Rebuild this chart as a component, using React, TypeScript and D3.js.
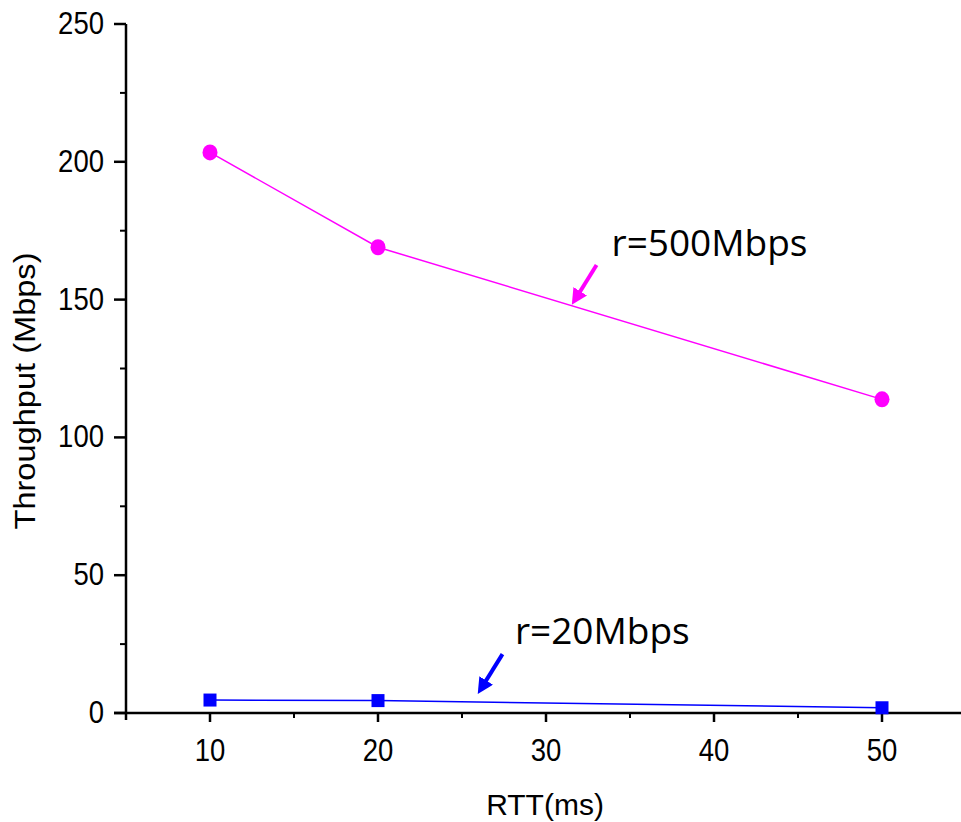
import React from "react";
import * as d3 from "d3";

const rtt = [10, 20, 50];
const thr500 = [203.4, 169.0, 113.8];
const thr20 = [4.7, 4.5, 1.9];
const xTicks = [10, 20, 30, 40, 50];
const yTicks = [0, 50, 100, 150, 200, 250];

const width = 961;
const height = 822;
const margin = { left: 126, top: 24, right: -5, bottom: 109 };

export default function App() {
  const x = d3.scaleLinear().domain([5, 55]).range([margin.left, width - margin.right]);
  const y = d3.scaleLinear().domain([0, 250]).range([height - margin.bottom, margin.top]);

  const line = d3
    .line<number>()
    .x((d, i) => x(rtt[i]))
    .y((d) => y(d));

  const xMinor = d3.range(5, 56, 10);
  const yMinor = d3.range(25, 250, 50);
  const y0 = y(0);
  const x0 = x(5);

  // arrow pointing down-left to a spot given in data units
  const arrow = (tx: number, ty: number, color: string, id: string) => {
    const px = x(tx);
    const py = y(ty);
    return (
      <line
        x1={px + 22}
        y1={py - 36}
        x2={px + 4}
        y2={py - 7}
        stroke={color}
        strokeWidth={4}
        markerEnd={`url(#${id})`}
      />
    );
  };

  return (
    <svg
      width={width}
      height={height}
      style={{ position: "absolute", left: 0, top: 0, background: "#fff" }}
    >
      <defs>
        <marker id="mag" viewBox="0 0 10 10" refX="2" refY="5" markerWidth="4" markerHeight="4" orient="auto">
          <path d="M0,0 L10,5 L0,10 z" fill="#ff00ff" />
        </marker>
        <marker id="blu" viewBox="0 0 10 10" refX="2" refY="5" markerWidth="4" markerHeight="4" orient="auto">
          <path d="M0,0 L10,5 L0,10 z" fill="#0000ff" />
        </marker>
      </defs>

      {/* axes */}
      <g stroke="#000" strokeWidth={2.5}>
        <line x1={x0} y1={y(250)} x2={x0} y2={y0 + 7} />
        <line x1={x0 - 12} y1={y0} x2={width} y2={y0} />
        {yTicks.map((t) => (
          <line key={"yt" + t} x1={x0 - 12} y1={y(t)} x2={x0} y2={y(t)} />
        ))}
        {yMinor.map((t) => (
          <line key={"ym" + t} x1={x0 - 6} y1={y(t)} x2={x0} y2={y(t)} strokeWidth={2} />
        ))}
        {xTicks.map((t) => (
          <line key={"xt" + t} x1={x(t)} y1={y0} x2={x(t)} y2={y0 + 9} />
        ))}
        {xMinor.map((t) => (
          <line key={"xm" + t} x1={x(t)} y1={y0} x2={x(t)} y2={y0 + 5} strokeWidth={2} />
        ))}
      </g>

      <g fontFamily="Liberation Sans, Arial, sans-serif" fontSize={32} fill="#000">
        {yTicks.map((t) => (
          <text
            key={"yl" + t}
            transform={`translate(${x0 - 22},${y(t) + 10}) scale(0.86,1)`}
            textAnchor="end"
          >
            {t}
          </text>
        ))}
        {xTicks.map((t) => (
          <text
            key={"xl" + t}
            transform={`translate(${x(t)},${y0 + 48}) scale(0.86,1)`}
            textAnchor="middle"
          >
            {t}
          </text>
        ))}
        <text x={545} y={815} textAnchor="middle" fontSize={30}>
          RTT(ms)
        </text>
        <text
          transform="translate(35,391) rotate(-90)"
          textAnchor="middle"
          fontSize={30}
          textLength={277}
          lengthAdjust="spacingAndGlyphs"
        >
          Throughput (Mbps)
        </text>
      </g>

      {/* series */}
      <path d={line(thr500) || ""} fill="none" stroke="#ff00ff" strokeWidth={1.5} />
      <path d={line(thr20) || ""} fill="none" stroke="#0000ff" strokeWidth={1.5} />
      {thr500.map((v, i) => (
        <ellipse key={"c" + i} cx={x(rtt[i])} cy={y(v)} rx={7.5} ry={8} fill="#ff00ff" />
      ))}
      {thr20.map((v, i) => (
        <rect key={"s" + i} x={x(rtt[i]) - 6.5} y={y(v) - 6.5} width={13} height={13} fill="#0000ff" />
      ))}

      {/* annotations */}
      {arrow(31.7, 149.5, "#ff00ff", "mag")}
      {arrow(26.1, 8.3, "#0000ff", "blu")}
      <g fontFamily="Open Sans, sans-serif" fontSize={37} fill="#000">
        <text x={x(33.9)} y={y(165.8)}>r=500Mbps</text>
        <text x={x(28.15)} y={y(25)}>r=20Mbps</text>
      </g>
    </svg>
  );
}
